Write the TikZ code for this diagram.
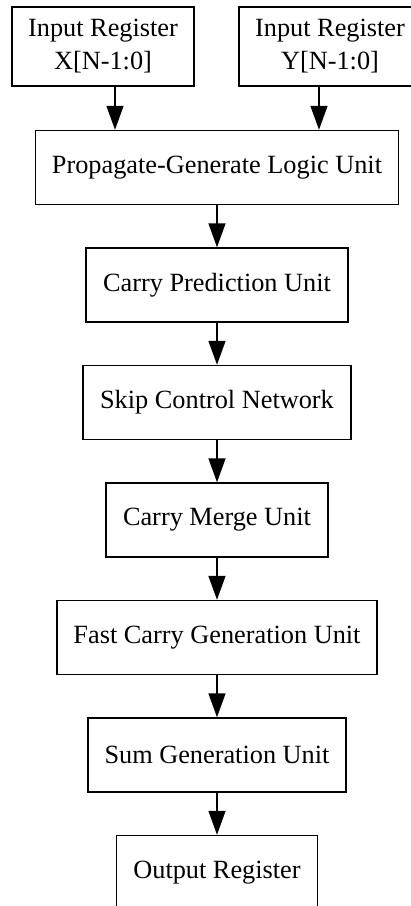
\documentclass[tikz,border=0pt]{standalone}
\usepackage{fontspec}
\setmainfont{Liberation Serif}
\usetikzlibrary{arrows.meta}

\begin{document}
\begin{tikzpicture}[
    x=1pt, y=-1pt,
    unit/.style={rectangle, draw, line width=1.5pt, inner sep=0pt, align=center,
        minimum height=74pt, font=\fontsize{26.3}{33}\selectfont},
    reg/.style={unit, minimum width=182pt, minimum height=79pt},
    flow/.style={-{Triangle[length=24pt,width=17pt]}, line width=1.6pt}
]
\useasboundingbox (0,0) rectangle (411,906);
\clip (0,0) rectangle (411,906);

% Input registers
\node[reg] (inX) at (103,46.5) {Input Register\\X[N-1:0]};
\node[reg] (inY) at (330,46.5) {Input Register\\Y[N-1:0]};

% Adder pipeline
\node[unit, minimum width=363pt] (pg) at (217,167.5) {Propagate-Generate Logic Unit};
\node[unit, minimum width=262pt] (cp) at (217,285) {Carry Prediction Unit};
\node[unit, minimum width=268pt] (sc) at (217,402.5) {Skip Control Network};
\node[unit, minimum width=222pt] (cm) at (217,520) {Carry Merge Unit};
\node[unit, minimum width=320pt] (fc) at (217,637.5) {Fast Carry Generation Unit};
\node[unit, minimum width=258pt] (sg) at (217,755) {Sum Generation Unit};
\node[unit, minimum width=201pt] (out) at (217,872.5) {Output Register};

% Arrows
\draw[flow] ([xshift=12pt]inX.south) -- ([xshift=12pt]inX.south |- pg.north);
\draw[flow] ([xshift=-11pt]inY.south) -- ([xshift=-11pt]inY.south |- pg.north);
\draw[flow] (pg) -- (cp);
\draw[flow] (cp) -- (sc);
\draw[flow] (sc) -- (cm);
\draw[flow] (cm) -- (fc);
\draw[flow] (fc) -- (sg);
\draw[flow] (sg) -- (out);

\end{tikzpicture}
\end{document}
